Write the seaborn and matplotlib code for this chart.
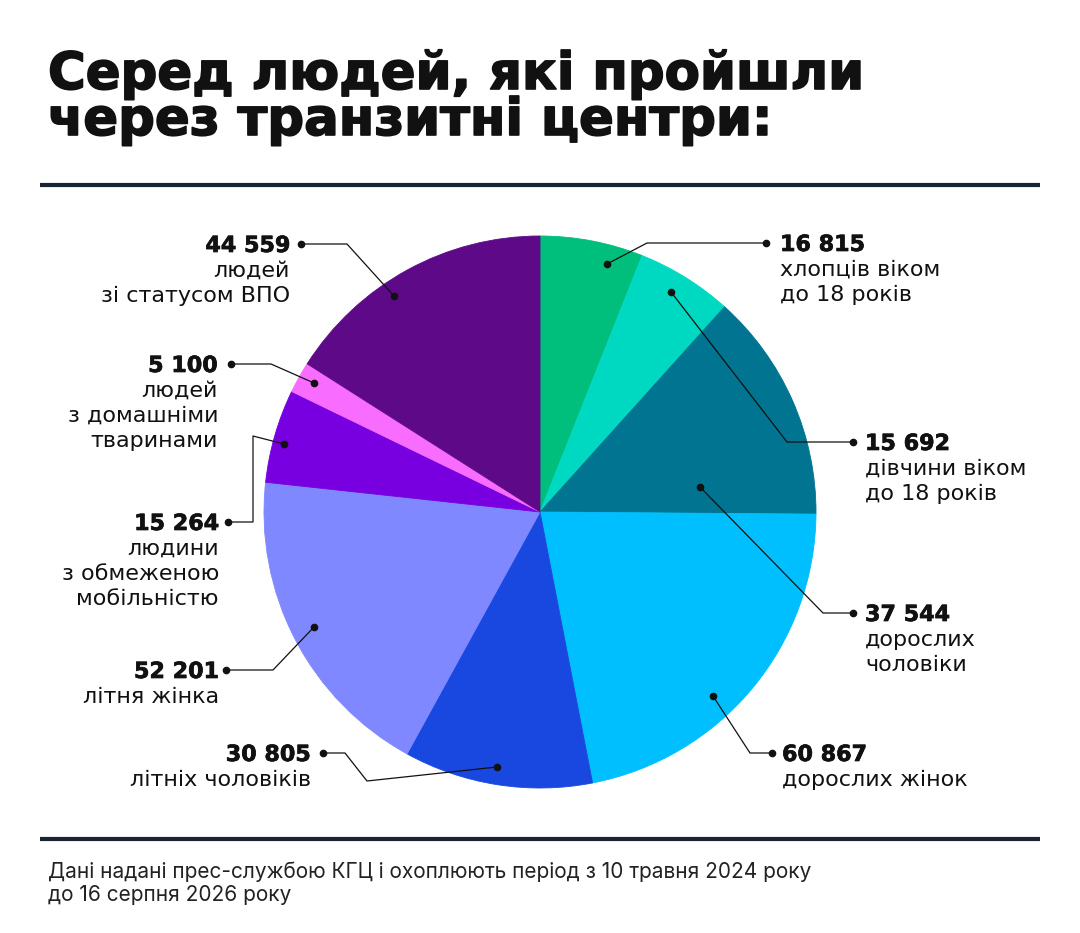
import matplotlib
matplotlib.use("Agg")
import matplotlib.pyplot as plt
import matplotlib.patheffects as pe
import seaborn as sns

# Дані діаграми (за годинниковою стрілкою від 12 години)
values = [16815, 15692, 37544, 60867, 30805, 52201, 15264, 5100, 44559]
descriptions = [
    "хлопців віком\nдо 18 років",
    "дівчини віком\nдо 18 років",
    "дорослих\nчоловіки",
    "дорослих жінок",
    "літніх чоловіків",
    "літня жінка",
    "людини\nз обмеженою\nмобільністю",
    "людей\nз домашніми\nтваринами",
    "людей\nзі статусом ВПО",
]
colors = ["#00BE7C", "#00D9C1", "#007490", "#00BFFF", "#1848E0",
          "#8088FF", "#7800E0", "#F86CFF", "#5E0A88"]

title = "Серед людей, які пройшли\nчерез транзитні центри:"
footnote = ("Дані надані прес-службою КГЦ і охоплюють період з 10 травня 2024 року\n"
            "до 16 серпня 2026 року")

# Розміщення підписів (пікселі): точка в секторі, ламана, точка біля тексту, x тексту
leaders = [
    ([(607, 264), (647, 243), (766, 243)], 780, "left"),
    ([(671, 292), (787, 442), (853, 442)], 865, "left"),
    ([(700, 487), (823, 613), (853, 613)], 865, "left"),
    ([(713, 696), (750, 753), (772, 753)], 782, "left"),
    ([(497, 767), (367, 781), (345, 753), (323, 753)], 311, "right"),
    ([(314, 627), (273, 670), (226, 670)], 219, "right"),
    ([(284, 444), (253, 436), (253, 522), (228, 522)], 219, "right"),
    ([(314, 383), (271, 364), (231, 364)], 218, "right"),
    ([(394, 296), (347, 244), (301, 244)], 290, "right"),
]

W, H = 1080, 933
sns.set_theme(style="white")
plt.rcParams["font.family"] = ["Inter", "DejaVu Sans"]

fig = plt.figure(figsize=(W / 100, H / 100), dpi=100)
fig.patch.set_facecolor("white")

# Кругова діаграма
cx, cy, r = 540, 512, 276
ax = fig.add_axes([(cx - r) / W, (H - cy - r) / H, 2 * r / W, 2 * r / H])
pal = sns.color_palette(colors)
wedges, _ = ax.pie(values, colors=pal, startangle=90, counterclock=False, radius=1)
for w in wedges:
    w.set_edgecolor(w.get_facecolor())
    w.set_linewidth(0.6)
ax.set_xlim(-1, 1)
ax.set_ylim(-1, 1)
ax.axis("off")

# Накладка для тексту та ліній у пікселях
ov = fig.add_axes([0, 0, 1, 1])
ov.set_xlim(0, W)
ov.set_ylim(H, 0)
ov.axis("off")

ink = "#111111"
navy = "#1A2333"
thick = [pe.withStroke(linewidth=1.2, foreground=ink)]

for i, line in enumerate(title.split("\n")):
    ov.text(48, 89 + 46 * i, line, fontsize=37, fontweight="bold",
            family="DejaVu Sans", color=ink, va="baseline", path_effects=thick)
ov.plot([40, 1040], [185, 185], color=navy, lw=3, solid_capstyle="butt")
ov.plot([40, 1040], [839, 839], color=navy, lw=3, solid_capstyle="butt")

for (pts, tx, ha), v, desc in zip(leaders, values, descriptions):
    xs = [p[0] for p in pts]
    ys = [p[1] for p in pts]
    ov.plot(xs, ys, color=ink, lw=0.9)
    ov.plot([xs[0], xs[-1]], [ys[0], ys[-1]], "o", ms=4.5, color=ink)
    base = ys[-1] + 8
    ov.text(tx, base, f"{v:,}".replace(",", " "), ha=ha, va="baseline",
            fontsize=16, fontweight="bold", family="DejaVu Sans", color=ink,
            path_effects=[pe.withStroke(linewidth=0.5, foreground=ink)])
    for i, line in enumerate(desc.split("\n")):
        ov.text(tx, base + 25 * (i + 1), line, ha=ha, va="baseline",
                fontsize=16, family="DejaVu Sans", color=ink)

for i, line in enumerate(footnote.split("\n")):
    ov.text(48, 878 + 23 * i, line, fontsize=15, color="#222222", va="baseline")

fig.savefig("out.png", dpi=100, facecolor="white")
